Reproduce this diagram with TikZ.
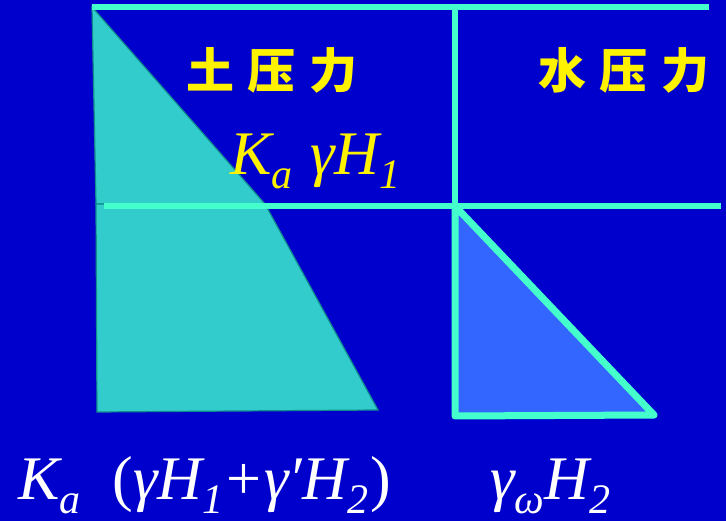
\documentclass[tikz,border=0pt]{standalone}
\usepackage{fontspec}
\setmainfont{Liberation Serif}
\newfontfamily\cjk{Noto Sans CJK SC}
\usepackage{tikz}
\usepackage{xcolor}
\definecolor{bgblue}{HTML}{0000CC}
\definecolor{linecyan}{HTML}{44FFCC}
\definecolor{soilfill}{HTML}{33CCCC}
\definecolor{soiledge}{HTML}{108C8C}
\definecolor{waterfill}{HTML}{3366FF}
\newcommand{\lowsub}[1]{\raisebox{-14pt}{\fontsize{42}{42}\selectfont #1}}

\begin{document}
\begin{tikzpicture}[x=1pt,y=-1pt,
  wall/.style={linecyan,line width=6pt},
  title/.style={yellow,font=\cjk\bfseries\fontsize{48}{48}\selectfont,inner sep=0pt},
  formula/.style={font=\itshape\fontsize{62}{62}\selectfont,inner sep=0pt,anchor=base west}]
\fill[bgblue] (0,0) rectangle (726,521);
\useasboundingbox (0,0) rectangle (726,521);
% soil pressure
\draw[fill=soilfill,draw=soiledge,line width=1.2pt] (92,7)--(265,204)--(96,204)--cycle;
\draw[fill=soilfill,draw=soiledge,line width=1.2pt] (96,204)--(265,204)--(378,410)--(97,412)--cycle;
% water pressure
\draw[fill=waterfill,draw=linecyan,line width=7pt,line join=round] (455,206)--(455,416)--(654,415)--cycle;
% frame lines
\draw[wall] (92,7)--(709,7);
\draw[wall] (104,206)--(721,206);
\draw[wall] (455,4)--(455,206);
% labels
\node[title] (soil) at (272,70){土\hspace{14pt}压\hspace{14pt}力};
\node[title] (water) at (624,70){水\hspace{14pt}压\hspace{14pt}力};
\node[formula,yellow] (topload) at (230,175){K\lowsub{a}\hspace{18pt}γH\lowsub{1}};
\node[formula,white] (soilbase) at (18,499){K\lowsub{a}\hspace{32pt}{\upshape(}γH\lowsub{1}\hspace{3pt}{\upshape+}\hspace{3pt}γ′H\lowsub{2}\hspace{2pt}{\upshape)}};
\node[formula,white] (waterbase) at (490,499){γ\lowsub{ω}H\lowsub{2}};
\end{tikzpicture}
\end{document}
